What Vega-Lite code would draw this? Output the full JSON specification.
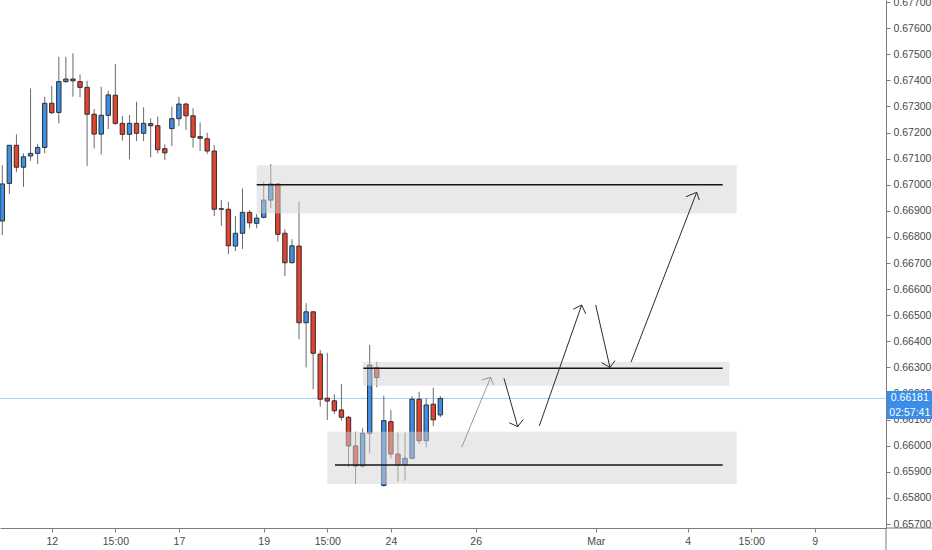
{
  "$schema": "https://vega.github.io/schema/vega-lite/v6.json",
  "width": 886,
  "height": 528,
  "autosize": {"type": "none"},
  "padding": {"left": 0, "top": 0, "right": 46, "bottom": 22},
  "background": "#ffffff",
  "datasets": {
    "candles": [
      {"t": 0, "o": 0.66861, "h": 0.67075, "l": 0.66807, "c": 0.67003},
      {"t": 1, "o": 0.67005, "h": 0.67152, "l": 0.66964, "c": 0.67151},
      {"t": 2, "o": 0.67151, "h": 0.67193, "l": 0.67048, "c": 0.67067},
      {"t": 3, "o": 0.67067, "h": 0.6712, "l": 0.66992, "c": 0.67107},
      {"t": 4, "o": 0.6711, "h": 0.67369, "l": 0.67092, "c": 0.6712},
      {"t": 5, "o": 0.6712, "h": 0.67157, "l": 0.67079, "c": 0.67143},
      {"t": 6, "o": 0.67143, "h": 0.67337, "l": 0.6712, "c": 0.67312},
      {"t": 7, "o": 0.67312, "h": 0.67379, "l": 0.67271, "c": 0.67276},
      {"t": 8, "o": 0.67277, "h": 0.6749, "l": 0.67235, "c": 0.67395},
      {"t": 9, "o": 0.67395, "h": 0.6749, "l": 0.67391, "c": 0.67405},
      {"t": 10, "o": 0.67405, "h": 0.67503, "l": 0.67337, "c": 0.67398},
      {"t": 11, "o": 0.67395, "h": 0.67423, "l": 0.67335, "c": 0.67373},
      {"t": 12, "o": 0.67373, "h": 0.67398, "l": 0.67072, "c": 0.6727},
      {"t": 13, "o": 0.6727, "h": 0.6729, "l": 0.67139, "c": 0.67194},
      {"t": 14, "o": 0.67194, "h": 0.67375, "l": 0.67116, "c": 0.67266},
      {"t": 15, "o": 0.67266, "h": 0.6736, "l": 0.67213, "c": 0.67344},
      {"t": 16, "o": 0.67343, "h": 0.67462, "l": 0.67229, "c": 0.67235},
      {"t": 17, "o": 0.67235, "h": 0.67263, "l": 0.67169, "c": 0.67193},
      {"t": 18, "o": 0.67193, "h": 0.67267, "l": 0.67097, "c": 0.67235},
      {"t": 19, "o": 0.67235, "h": 0.67318, "l": 0.67167, "c": 0.67197},
      {"t": 20, "o": 0.67197, "h": 0.67297, "l": 0.67167, "c": 0.67235},
      {"t": 21, "o": 0.67234, "h": 0.67254, "l": 0.67105, "c": 0.67226},
      {"t": 22, "o": 0.67226, "h": 0.67261, "l": 0.6712, "c": 0.67134},
      {"t": 23, "o": 0.67138, "h": 0.67155, "l": 0.67095, "c": 0.67122},
      {"t": 24, "o": 0.67215, "h": 0.67299, "l": 0.67148, "c": 0.67253},
      {"t": 25, "o": 0.67253, "h": 0.67337, "l": 0.67225, "c": 0.67309},
      {"t": 26, "o": 0.67309, "h": 0.67314, "l": 0.6721, "c": 0.67264},
      {"t": 27, "o": 0.67264, "h": 0.67293, "l": 0.67142, "c": 0.67182},
      {"t": 28, "o": 0.67184, "h": 0.67238, "l": 0.67129, "c": 0.67178},
      {"t": 29, "o": 0.67176, "h": 0.67199, "l": 0.67118, "c": 0.67129},
      {"t": 30, "o": 0.67129, "h": 0.67152, "l": 0.6688, "c": 0.66906},
      {"t": 31, "o": 0.66908, "h": 0.66941, "l": 0.66842, "c": 0.66906},
      {"t": 32, "o": 0.66906, "h": 0.66935, "l": 0.66734, "c": 0.66766},
      {"t": 33, "o": 0.66765, "h": 0.6688, "l": 0.66746, "c": 0.66814},
      {"t": 34, "o": 0.66814, "h": 0.66986, "l": 0.66754, "c": 0.66894},
      {"t": 35, "o": 0.66894, "h": 0.66903, "l": 0.66833, "c": 0.66854},
      {"t": 36, "o": 0.66852, "h": 0.66888, "l": 0.66833, "c": 0.66872},
      {"t": 37, "o": 0.66875, "h": 0.67012, "l": 0.66871, "c": 0.66941},
      {"t": 38, "o": 0.66941, "h": 0.67079, "l": 0.6691, "c": 0.67003},
      {"t": 39, "o": 0.67003, "h": 0.67005, "l": 0.66782, "c": 0.6681},
      {"t": 40, "o": 0.66814, "h": 0.6683, "l": 0.6665, "c": 0.66701},
      {"t": 41, "o": 0.66701, "h": 0.66791, "l": 0.66699, "c": 0.66766},
      {"t": 42, "o": 0.66765, "h": 0.66935, "l": 0.66408, "c": 0.66471},
      {"t": 43, "o": 0.66471, "h": 0.66546, "l": 0.663, "c": 0.66513},
      {"t": 44, "o": 0.66513, "h": 0.66516, "l": 0.66216, "c": 0.66354},
      {"t": 45, "o": 0.66351, "h": 0.66367, "l": 0.66149, "c": 0.66178},
      {"t": 46, "o": 0.66182, "h": 0.66356, "l": 0.66099, "c": 0.66171},
      {"t": 47, "o": 0.66172, "h": 0.66197, "l": 0.66122, "c": 0.66134},
      {"t": 48, "o": 0.66137, "h": 0.66236, "l": 0.66096, "c": 0.66109},
      {"t": 49, "o": 0.66109, "h": 0.66114, "l": 0.65917, "c": 0.65999},
      {"t": 50, "o": 0.65999, "h": 0.66054, "l": 0.65853, "c": 0.65922},
      {"t": 51, "o": 0.65922, "h": 0.66067, "l": 0.65917, "c": 0.66048},
      {"t": 52, "o": 0.66048, "h": 0.66386, "l": 0.65971, "c": 0.66309},
      {"t": 53, "o": 0.66299, "h": 0.66321, "l": 0.66224, "c": 0.66261},
      {"t": 54, "o": 0.65848, "h": 0.66192, "l": 0.65843, "c": 0.66096},
      {"t": 55, "o": 0.66092, "h": 0.66137, "l": 0.65952, "c": 0.65968},
      {"t": 56, "o": 0.65968, "h": 0.6605, "l": 0.65862, "c": 0.65926},
      {"t": 57, "o": 0.65926, "h": 0.6605, "l": 0.65866, "c": 0.65952},
      {"t": 58, "o": 0.65952, "h": 0.6619, "l": 0.65948, "c": 0.66178},
      {"t": 59, "o": 0.66178, "h": 0.66207, "l": 0.66007, "c": 0.66019},
      {"t": 60, "o": 0.66019, "h": 0.66182, "l": 0.65994, "c": 0.66156},
      {"t": 61, "o": 0.66159, "h": 0.66222, "l": 0.66075, "c": 0.66099},
      {"t": 62, "o": 0.66118, "h": 0.6619, "l": 0.66109, "c": 0.66181}
    ],
    "zones": [
      {"t1": 36.01, "t2": 103.95, "p1": 0.67075, "p2": 0.6689},
      {"t1": 51.01, "t2": 102.9, "p1": 0.66322, "p2": 0.6623},
      {"t1": 46.0, "t2": 103.95, "p1": 0.66053, "p2": 0.65853}
    ],
    "levels": [
      {"t1": 36.01, "t2": 101.97, "p": 0.67},
      {"t1": 51.1, "t2": 101.97, "p": 0.66297},
      {"t1": 47.09, "t2": 101.97, "p": 0.65926}
    ],
    "arrows": [
      {"seg": "a1s", "k": 0, "t": 65.02, "p": 0.65994, "tone": "light"},
      {"seg": "a1s", "k": 1, "t": 69.13, "p": 0.66262, "tone": "light"},
      {"seg": "a1h", "k": 0, "t": 67.86, "p": 0.66252, "tone": "light"},
      {"seg": "a1h", "k": 1, "t": 69.13, "p": 0.66262, "tone": "light"},
      {"seg": "a1h", "k": 2, "t": 69.53, "p": 0.66233, "tone": "light"},
      {"seg": "a2s", "k": 0, "t": 71.01, "p": 0.66258, "tone": "dark"},
      {"seg": "a2s", "k": 1, "t": 72.95, "p": 0.66073, "tone": "dark"},
      {"seg": "a2h", "k": 0, "t": 71.76, "p": 0.66088, "tone": "dark"},
      {"seg": "a2h", "k": 1, "t": 72.95, "p": 0.66073, "tone": "dark"},
      {"seg": "a2h", "k": 2, "t": 73.74, "p": 0.66101, "tone": "dark"},
      {"seg": "a3s", "k": 0, "t": 76.01, "p": 0.66076, "tone": "dark"},
      {"seg": "a3s", "k": 1, "t": 82.01, "p": 0.66539, "tone": "dark"},
      {"seg": "a3h", "k": 0, "t": 80.82, "p": 0.66523, "tone": "dark"},
      {"seg": "a3h", "k": 1, "t": 82.01, "p": 0.66539, "tone": "dark"},
      {"seg": "a3h", "k": 2, "t": 82.58, "p": 0.66505, "tone": "dark"},
      {"seg": "a4s", "k": 0, "t": 83.99, "p": 0.66539, "tone": "dark"},
      {"seg": "a4s", "k": 1, "t": 86.01, "p": 0.663, "tone": "dark"},
      {"seg": "a4h", "k": 0, "t": 84.84, "p": 0.66318, "tone": "dark"},
      {"seg": "a4h", "k": 1, "t": 86.01, "p": 0.663, "tone": "dark"},
      {"seg": "a4h", "k": 2, "t": 86.72, "p": 0.66326, "tone": "dark"},
      {"seg": "a5s", "k": 0, "t": 88.99, "p": 0.6632, "tone": "dark"},
      {"seg": "a5s", "k": 1, "t": 98.29, "p": 0.66971, "tone": "dark"},
      {"seg": "a5h", "k": 0, "t": 96.77, "p": 0.66954, "tone": "dark"},
      {"seg": "a5h", "k": 1, "t": 98.29, "p": 0.66971, "tone": "dark"},
      {"seg": "a5h", "k": 2, "t": 98.65, "p": 0.66941, "tone": "dark"}
    ],
    "tag": [
      {"t1": 125.2, "t2": 131.8, "tc": 128.45, "p1": 0.6621, "p2": 0.66152, "pm": 0.66181, "lab": "0.66181"},
      {"t1": 125.2, "t2": 131.8, "tc": 128.45, "p1": 0.66152, "p2": 0.66102, "pm": 0.66127, "lab": "02:57:41"}
    ],
    "frame": [
      {"t1": 125.08, "t2": 125.08, "p1": 0.6555, "p2": 0.656847},
      {"t1": 125.08, "t2": 131.9, "p1": 0.656847, "p2": 0.656847}
    ]
  },
  "layer": [
    {
      "data": {"values": [{"p": 0.66181}]},
      "mark": {"type": "rule", "color": "#a7d0f5", "strokeWidth": 1},
      "encoding": {
        "y": {
          "field": "p", "type": "quantitative", "title": null,
          "scale": {"domain": [0.656847, 0.677077], "nice": false, "zero": false},
          "axis": {"orient": "right", "values": [0.657, 0.658, 0.659, 0.66, 0.661, 0.662, 0.663, 0.664, 0.665, 0.666, 0.667, 0.668, 0.669, 0.67, 0.671, 0.672, 0.673, 0.674, 0.675, 0.676, 0.677], "format": ".5f", "labelFlush": false, "labelOverlap": false, "labelPadding": 3}
        }
      }
    },
    {
      "data": {"name": "candles"},
      "mark": {"type": "rule", "color": "#6a6a6a", "strokeWidth": 1},
      "encoding": {
        "x": {
          "field": "t", "type": "quantitative", "title": null,
          "scale": {"domain": [-0.326, 125.08], "nice": false, "zero": false, "padding": 0},
          "axis": {
            "orient": "bottom",
            "values": [7, 16, 25, 37, 46, 55, 67, 84, 97, 106, 115],
            "labelExpr": "['12','15:00','17','19','15:00','24','26','Mar','4','15:00','9'][indexof([7,16,25,37,46,55,67,84,97,106,115], datum.value)]",
            "labelFlush": false,
            "labelOverlap": false,
            "labelPadding": 4
          }
        },
        "y": {
          "field": "l", "type": "quantitative", "title": null,
          "scale": {"domain": [0.656847, 0.677077], "nice": false, "zero": false},
          "axis": {"orient": "right", "values": [0.657, 0.658, 0.659, 0.66, 0.661, 0.662, 0.663, 0.664, 0.665, 0.666, 0.667, 0.668, 0.669, 0.67, 0.671, 0.672, 0.673, 0.674, 0.675, 0.676, 0.677], "format": ".5f", "labelFlush": false, "labelOverlap": false, "labelPadding": 3}
        },
        "y2": {"field": "h"}
      }
    },
    {
      "data": {"name": "candles"},
      "mark": {"type": "bar", "size": 4.4, "stroke": "#2f2f2f", "strokeWidth": 1},
      "encoding": {
        "x": {"field": "t", "type": "quantitative", "title": null, "scale": {"padding": 0}},
        "y": {
          "field": "o", "type": "quantitative", "title": null,
          "axis": {"orient": "right", "values": [0.657, 0.658, 0.659, 0.66, 0.661, 0.662, 0.663, 0.664, 0.665, 0.666, 0.667, 0.668, 0.669, 0.67, 0.671, 0.672, 0.673, 0.674, 0.675, 0.676, 0.677], "format": ".5f", "labelFlush": false, "labelOverlap": false, "labelPadding": 3}
        },
        "y2": {"field": "c"},
        "color": {"condition": {"test": "datum.c >= datum.o", "value": "#3d8ee6"}, "value": "#e5412f"}
      }
    },
    {
      "data": {"name": "zones"},
      "mark": {"type": "rect", "color": "#d4d4d4", "opacity": 0.5},
      "encoding": {
        "x": {"field": "t1", "type": "quantitative", "title": null},
        "x2": {"field": "t2"},
        "y": {
          "field": "p1", "type": "quantitative", "title": null,
          "axis": {"orient": "right", "values": [0.657, 0.658, 0.659, 0.66, 0.661, 0.662, 0.663, 0.664, 0.665, 0.666, 0.667, 0.668, 0.669, 0.67, 0.671, 0.672, 0.673, 0.674, 0.675, 0.676, 0.677], "format": ".5f", "labelFlush": false, "labelOverlap": false, "labelPadding": 3}
        },
        "y2": {"field": "p2"}
      }
    },
    {
      "data": {"name": "levels"},
      "mark": {"type": "rule", "color": "#161616", "strokeWidth": 1.5},
      "encoding": {
        "x": {"field": "t1", "type": "quantitative", "title": null},
        "x2": {"field": "t2"},
        "y": {
          "field": "p", "type": "quantitative", "title": null,
          "axis": {"orient": "right", "values": [0.657, 0.658, 0.659, 0.66, 0.661, 0.662, 0.663, 0.664, 0.665, 0.666, 0.667, 0.668, 0.669, 0.67, 0.671, 0.672, 0.673, 0.674, 0.675, 0.676, 0.677], "format": ".5f", "labelFlush": false, "labelOverlap": false, "labelPadding": 3}
        }
      }
    },
    {
      "data": {"name": "arrows"},
      "mark": {"type": "line", "strokeWidth": 1},
      "encoding": {
        "x": {"field": "t", "type": "quantitative", "title": null},
        "y": {
          "field": "p", "type": "quantitative", "title": null,
          "axis": {"orient": "right", "values": [0.657, 0.658, 0.659, 0.66, 0.661, 0.662, 0.663, 0.664, 0.665, 0.666, 0.667, 0.668, 0.669, 0.67, 0.671, 0.672, 0.673, 0.674, 0.675, 0.676, 0.677], "format": ".5f", "labelFlush": false, "labelOverlap": false, "labelPadding": 3}
        },
        "detail": {"field": "seg"},
        "order": {"field": "k"},
        "color": {"field": "tone", "type": "nominal", "scale": {"domain": ["light", "dark"], "range": ["#9a9a9a", "#2b2b2b"]}, "legend": null}
      }
    },
    {
      "data": {"name": "frame"},
      "mark": {"type": "rule", "color": "#7a7a7a", "strokeWidth": 1},
      "encoding": {
        "x": {"field": "t1", "type": "quantitative", "title": null},
        "x2": {"field": "t2"},
        "y": {
          "field": "p1", "type": "quantitative", "title": null,
          "axis": {"orient": "right", "values": [0.657, 0.658, 0.659, 0.66, 0.661, 0.662, 0.663, 0.664, 0.665, 0.666, 0.667, 0.668, 0.669, 0.67, 0.671, 0.672, 0.673, 0.674, 0.675, 0.676, 0.677], "format": ".5f", "labelFlush": false, "labelOverlap": false, "labelPadding": 3}
        },
        "y2": {"field": "p2"}
      }
    },
    {
      "data": {"name": "tag"},
      "mark": {"type": "rect", "color": "#3a8ee8"},
      "encoding": {
        "x": {"field": "t1", "type": "quantitative", "title": null},
        "x2": {"field": "t2"},
        "y": {
          "field": "p1", "type": "quantitative", "title": null,
          "axis": {"orient": "right", "values": [0.657, 0.658, 0.659, 0.66, 0.661, 0.662, 0.663, 0.664, 0.665, 0.666, 0.667, 0.668, 0.669, 0.67, 0.671, 0.672, 0.673, 0.674, 0.675, 0.676, 0.677], "format": ".5f", "labelFlush": false, "labelOverlap": false, "labelPadding": 3}
        },
        "y2": {"field": "p2"}
      }
    },
    {
      "data": {"name": "tag"},
      "mark": {"type": "text", "color": "#ffffff", "font": "Liberation Sans", "fontSize": 10.5, "align": "center", "baseline": "middle"},
      "encoding": {
        "x": {"field": "tc", "type": "quantitative", "title": null},
        "y": {
          "field": "pm", "type": "quantitative", "title": null,
          "axis": {"orient": "right", "values": [0.657, 0.658, 0.659, 0.66, 0.661, 0.662, 0.663, 0.664, 0.665, 0.666, 0.667, 0.668, 0.669, 0.67, 0.671, 0.672, 0.673, 0.674, 0.675, 0.676, 0.677], "format": ".5f", "labelFlush": false, "labelOverlap": false, "labelPadding": 3}
        },
        "text": {"field": "lab"}
      }
    }
  ],
  "config": {
    "view": {"stroke": null},
    "axis": {
      "grid": false,
      "labelFont": "Liberation Sans",
      "labelFontSize": 10.5,
      "labelColor": "#4a4a4a",
      "tickColor": "#7a7a7a",
      "domainColor": "#7a7a7a",
      "tickSize": 4
    }
  }
}
